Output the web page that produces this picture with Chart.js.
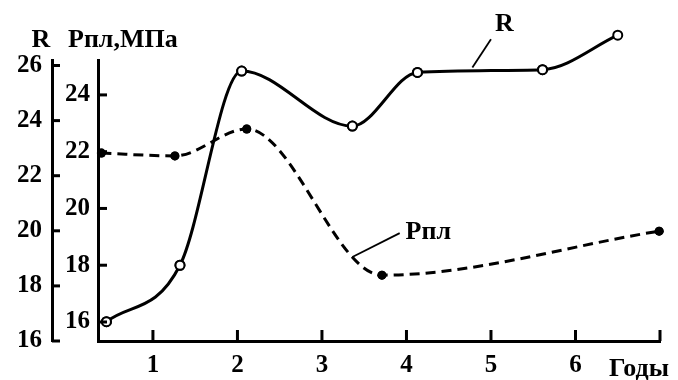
<!DOCTYPE html>
<html>
<head>
<meta charset="utf-8">
<script src="https://cdn.jsdelivr.net/npm/chart.js@4"></script>
<style>
  html, body { margin: 0; padding: 0; background: #fff; }
  #wrap { width: 678px; height: 380px; }
</style>
</head>
<body>
<div id="wrap"><canvas id="chart"></canvas></div>
<script>
// years on the x axis, ticks of both left axes
const years = [1, 2, 3, 4, 5, 6];
const rTicks = [16, 18, 20, 22, 24, 26];
const pTicks = [16, 18, 20, 22, 24];

// R curve (open circles)
const rYears = [0.45, 1.32, 2.05, 3.36, 4.13, 5.61, 6.5];
const rValues = [16.7, 18.75, 25.8, 23.8, 25.75, 25.85, 27.1];

// Рпл curve (dashed, filled dots)
const pYears = [0.39, 1.26, 2.11, 3.71, 6.99];
const pValues = [21.95, 21.85, 22.8, 17.65, 19.2];

const serif = '"Liberation Serif", "DejaVu Serif", serif';
const tickFont = { family: serif, weight: 'bold', size: 25 };

function toPoints(xs, ys) {
    return xs.map((x, i) => ({ x: x, y: ys[i] }));
}

function line(ctx, x1, y1, x2, y2) {
    ctx.beginPath();
    ctx.moveTo(x1, y1);
    ctx.lineTo(x2, y2);
    ctx.stroke();
}

// inward tick marks, axis titles and curve labels
const decor = {
    id: 'decor',
    afterDatasetsDraw(chart) {
        // points above the plot area (last R value) are skipped by Chart.js, draw them anyway
        const whole = { left: 0, top: 0, right: chart.width, bottom: chart.height };
        chart.data.datasets.forEach((ds, i) => {
            chart.getDatasetMeta(i).data.forEach(pt => pt.draw(chart.ctx, whole));
        });
    },
    afterDraw(chart) {
        const { ctx } = chart;
        const { x, yR, yP } = chart.scales;
        ctx.save();
        ctx.strokeStyle = '#000';
        ctx.fillStyle = '#000';
        ctx.lineWidth = 3;
        rTicks.forEach(v => {
            const y = yR.getPixelForValue(v);
            line(ctx, yR.right, y, yR.right + 8, y);
        });
        pTicks.forEach(v => {
            const y = yP.getPixelForValue(v);
            line(ctx, yP.right, y, yP.right + 9, y);
        });
        years.concat([x.max]).forEach(v => {
            const px = x.getPixelForValue(v);
            line(ctx, px, x.top, px, x.top - 11);
        });

        ctx.font = 'bold 26px ' + serif;
        ctx.textBaseline = 'alphabetic';
        ctx.textAlign = 'center';
        ctx.fillText('R', 41, 47);
        ctx.textAlign = 'left';
        ctx.fillText('Рпл,МПа', 68, 47);
        ctx.fillText('Годы', 609, 376);

        // curve labels with leader lines
        ctx.lineWidth = 1.8;
        line(ctx, x.getPixelForValue(4.78), yR.getPixelForValue(25.93),
                  x.getPixelForValue(5.0), yR.getPixelForValue(26.95));
        ctx.textAlign = 'center';
        ctx.textBaseline = 'middle';
        ctx.fillText('R', x.getPixelForValue(5.16), yR.getPixelForValue(27.5));

        line(ctx, x.getPixelForValue(3.36), yP.getPixelForValue(18.29),
                  x.getPixelForValue(3.92), yP.getPixelForValue(19.13));
        ctx.textAlign = 'left';
        ctx.fillText('Рпл', x.getPixelForValue(3.99), yP.getPixelForValue(19.17));
        ctx.restore();
    }
};

const chart = new Chart(document.getElementById('chart'), {
    type: 'line',
    data: {
        datasets: [
            {
                label: 'R',
                data: toPoints(rYears, rValues),
                yAxisID: 'yR',
                borderColor: '#000',
                borderWidth: 3,
                cubicInterpolationMode: 'monotone',
                pointRadius: 4.5,
                pointBorderWidth: 2,
                pointBackgroundColor: '#fff',
                pointBorderColor: '#000',
                clip: false
            },
            {
                label: 'Рпл',
                data: toPoints(pYears, pValues),
                yAxisID: 'yP',
                borderColor: '#000',
                borderWidth: 3,
                borderDash: [10, 6],
                cubicInterpolationMode: 'monotone',
                pointRadius: 4.5,
                pointBorderWidth: 0,
                pointBackgroundColor: '#000',
                clip: false
            }
        ]
    },
    options: {
        responsive: true,
        maintainAspectRatio: false,
        animation: false,
        layout: { padding: { top: 60, right: 18, left: 0, bottom: 0 } },
        plugins: {
            legend: { display: false },
            tooltip: { enabled: false }
        },
        scales: {
            x: {
                type: 'linear',
                position: 'bottom',
                min: 0.35,
                max: 7,
                afterBuildTicks: s => { s.ticks = years.map(v => ({ value: v })); },
                afterFit: s => { s.height = 39; },
                grid: { display: false, drawTicks: false },
                border: { color: '#000', width: 3 },
                ticks: { color: '#000', font: tickFont, padding: 10, maxRotation: 0, autoSkip: false }
            },
            yR: {
                type: 'linear',
                position: 'left',
                weight: 2,
                min: 16,
                max: 26.2,
                afterBuildTicks: s => { s.ticks = rTicks.map(v => ({ value: v })); },
                afterFit: s => { s.width = 52; },
                grid: { display: false, drawTicks: false },
                border: { color: '#000', width: 3 },
                ticks: { color: '#000', font: tickFont, padding: 10 }
            },
            yP: {
                type: 'linear',
                position: 'left',
                weight: 1,
                min: 15.33,
                max: 25.23,
                afterBuildTicks: s => { s.ticks = pTicks.map(v => ({ value: v })); },
                afterFit: s => { s.width = 46; },
                grid: { display: false, drawTicks: false },
                border: { color: '#000', width: 3 },
                ticks: { color: '#000', font: tickFont, padding: 8 }
            }
        }
    },
    plugins: [decor]
});
</script>
</body>
</html>
